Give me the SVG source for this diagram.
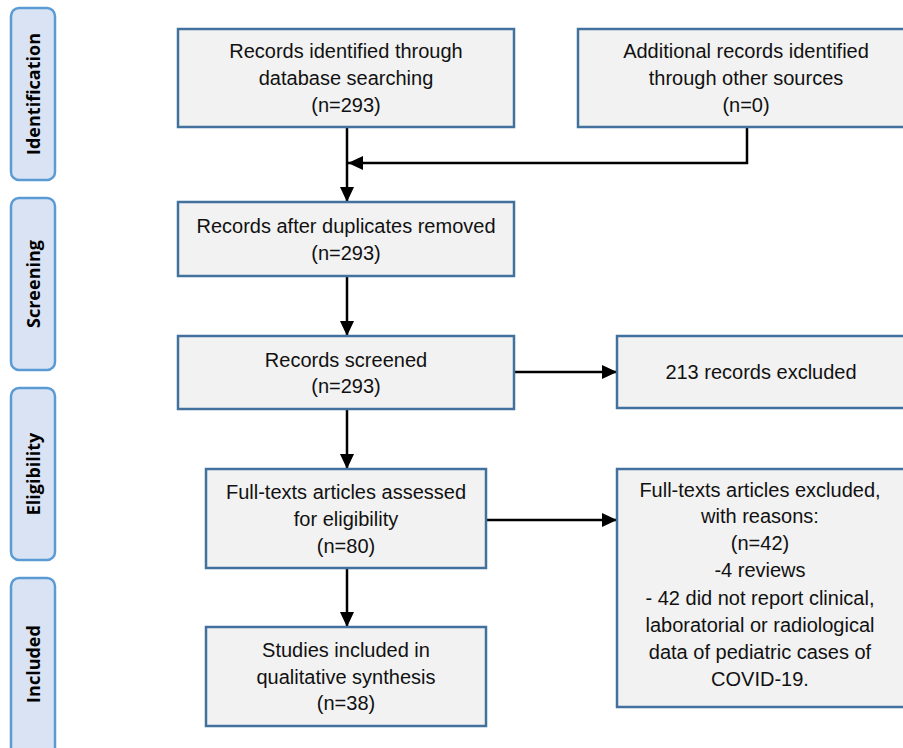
<svg xmlns="http://www.w3.org/2000/svg" width="903" height="748" viewBox="0 0 903 748">
<style>
.phase{fill:#dae3f3;stroke:#5b9bd5;stroke-width:2.5}
.ptxt{font-family:"Open Sans","DejaVu Sans",sans-serif;font-weight:bold;font-size:18px;fill:#000;text-anchor:middle}
.box{fill:#f2f2f2;stroke:#41719c;stroke-width:2.5}
.txt{font-family:"Liberation Sans",Arial,sans-serif;font-size:20px;fill:#111;text-anchor:middle}
.conn{fill:none;stroke:#000;stroke-width:2.5}
</style>
<defs>
<marker id="ah" markerUnits="userSpaceOnUse" markerWidth="16" markerHeight="16" viewBox="0 0 16 16" refX="15" refY="8" orient="auto">
<path d="M0,1 L15,8 L0,15 Z" fill="#000"/>
</marker>
</defs>
<rect width="903" height="748" fill="#fff"/>
<g id="phase-identification"><rect class="phase" x="11" y="8" width="44" height="172" rx="8"/><text class="ptxt" transform="translate(40,94) rotate(-90)">Identification</text></g>
<g id="phase-screening"><rect class="phase" x="11" y="198" width="44" height="172" rx="8"/><text class="ptxt" transform="translate(40,284) rotate(-90)">Screening</text></g>
<g id="phase-eligibility"><rect class="phase" x="11" y="388" width="44" height="172" rx="8"/><text class="ptxt" transform="translate(40,474) rotate(-90)">Eligibility</text></g>
<g id="phase-included"><rect class="phase" x="11" y="578" width="44" height="180" rx="8"/><text class="ptxt" transform="translate(40,664) rotate(-90)">Included</text></g>

<g id="connectors">
<line class="conn" x1="347" y1="127" x2="347" y2="202" marker-end="url(#ah)"/>
<polyline class="conn" points="747,127 747,163 348,163" marker-end="url(#ah)"/>
<line class="conn" x1="347" y1="276" x2="347" y2="336" marker-end="url(#ah)"/>
<line class="conn" x1="347" y1="409" x2="347" y2="469" marker-end="url(#ah)"/>
<line class="conn" x1="514" y1="372" x2="617" y2="372" marker-end="url(#ah)"/>
<line class="conn" x1="347" y1="568" x2="347" y2="627" marker-end="url(#ah)"/>
<line class="conn" x1="486" y1="520" x2="617" y2="520" marker-end="url(#ah)"/>
</g>

<g id="n-db"><rect class="box" x="178" y="29" width="336" height="98"/>
<text class="txt" x="346" y="58">Records identified through</text>
<text class="txt" x="346" y="85">database searching</text>
<text class="txt" x="346" y="112">(n=293)</text></g>

<g id="n-other"><rect class="box" x="578" y="29" width="330" height="98"/>
<text class="txt" x="746" y="58">Additional records identified</text>
<text class="txt" x="746" y="85">through other sources</text>
<text class="txt" x="746" y="112">(n=0)</text></g>

<g id="n-dup"><rect class="box" x="178" y="202" width="336" height="74"/>
<text class="txt" x="346" y="233">Records after duplicates removed</text>
<text class="txt" x="346" y="260">(n=293)</text></g>

<g id="n-screened"><rect class="box" x="178" y="336" width="336" height="73"/>
<text class="txt" x="346" y="367">Records screened</text>
<text class="txt" x="346" y="393">(n=293)</text></g>

<g id="n-excl1"><rect class="box" x="617" y="336" width="290" height="72"/>
<text class="txt" x="761" y="379">213 records excluded</text></g>

<g id="n-fulltext"><rect class="box" x="206" y="469" width="280" height="99"/>
<text class="txt" x="346" y="499">Full-texts articles assessed</text>
<text class="txt" x="346" y="526">for eligibility</text>
<text class="txt" x="346" y="553">(n=80)</text></g>

<g id="n-excl2"><rect class="box" x="617" y="469" width="290" height="238"/>
<text class="txt" x="760" y="497">Full-texts articles excluded,</text>
<text class="txt" x="760" y="523">with reasons:</text>
<text class="txt" x="760" y="550">(n=42)</text>
<text class="txt" x="760" y="577">-4 reviews</text>
<text class="txt" x="760" y="605">- 42 did not report clinical,</text>
<text class="txt" x="760" y="632">laboratorial or radiological</text>
<text class="txt" x="760" y="659">data of pediatric cases of</text>
<text class="txt" x="760" y="686">COVID-19.</text></g>

<g id="n-included"><rect class="box" x="206" y="627" width="280" height="99"/>
<text class="txt" x="346" y="657">Studies included in</text>
<text class="txt" x="346" y="684">qualitative synthesis</text>
<text class="txt" x="346" y="710">(n=38)</text></g>
</svg>
